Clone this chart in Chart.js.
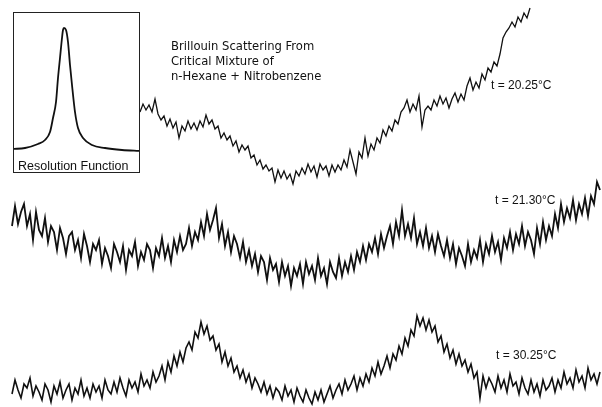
<!DOCTYPE html>
<html>
<head>
<meta charset="utf-8">
<script src="https://cdn.jsdelivr.net/npm/chart.js@4.4.1/dist/chart.umd.min.js"></script>
<style>
  body { margin: 0; background: #fff; }
  #wrap { position: relative; width: 602px; height: 407px; background: #fff; overflow: hidden; }
  #main { position: absolute; left: 0; top: 0; }
  #inset { position: absolute; left: 13px; top: 12px; width: 127px; height: 161px; border: 1.3px solid #222; box-sizing: border-box; }
  #res { position: absolute; left: 0; top: 0; }
  .lbl { position: absolute; color: #111; white-space: nowrap; font-family: "Liberation Sans", Arial, sans-serif; }
  .title { font-family: "DejaVu Sans", sans-serif; font-size: 11.6px; line-height: 15px; }
</style>
</head>
<body>
<div id="wrap">
  <canvas id="main" width="602" height="407"></canvas>
  <div id="inset"><canvas id="res" width="125" height="140"></canvas></div>
  <div class="lbl" style="left:18px; top:159px; font-size:12.5px; line-height:14px;">Resolution Function</div>
  <div class="lbl title" style="left:171px; top:39px;">Brillouin Scattering From<br>Critical Mixture of<br>n-Hexane + Nitrobenzene</div>
  <div class="lbl" style="left:491px; top:79px; font-size:12px; line-height:12px;">t = 20.25°C</div>
  <div class="lbl" style="left:495px; top:194px; font-size:12px; line-height:12px;">t = 21.30°C</div>
  <div class="lbl" style="left:496px; top:349px; font-size:12px; line-height:12px;">t = 30.25°C</div>
</div>
<script>
// channel grid: each trace starts at a channel and is sampled every 3 channels
var channelStep = 3;
var start2025 = 140;
var start2130 = 12;
var start3025 = 12;

// trace values (plot units, larger = lower on the page)
var trace2025 = [112,104,110,105,112,99,114,120,116,126,119,128,122,138,126,131,121,129,123,130,
  121,127,115,124,120,129,126,138,133,140,136,146,141,152,145,150,146,158,155,165,
  160,169,165,171,168,182,170,178,171,179,174,184,171,176,168,174,164,172,166,177,
  164,170,166,176,165,172,165,170,160,167,150,162,174,152,158,138,156,144,150,138,
  143,130,136,126,131,120,124,112,108,100,112,104,110,96,127,110,106,110,100,106,
  96,104,98,108,99,93,102,94,100,86,78,90,82,88,74,80,68,72,62,66,
  54,38,32,28,22,27,17,22,13,18,8];

var trace2130 = [226,206,224,212,204,226,214,240,212,230,236,218,242,226,232,250,228,238,254,236,
  232,250,240,258,234,246,262,244,250,240,264,248,256,268,244,252,262,246,270,250,
  256,242,266,252,260,244,250,268,248,256,238,258,246,262,240,252,236,250,244,228,
  246,232,240,222,236,214,230,220,208,238,224,246,232,252,236,244,258,242,262,250,
  266,254,272,256,262,280,258,270,264,282,262,276,266,286,268,276,264,284,262,274,
  266,280,258,276,268,284,262,272,278,258,276,262,272,256,270,252,262,246,260,244,
  252,238,254,234,248,236,226,244,222,236,210,236,224,238,218,244,232,246,228,248,
  236,252,234,246,256,240,258,244,264,248,256,266,244,262,250,258,240,262,244,254,
  236,252,242,260,238,248,232,250,234,244,226,246,232,240,254,228,244,222,240,226,
  236,214,228,204,222,208,218,200,220,204,214,198,216,196,204,182,190];

var trace3025 = [394,380,390,398,384,388,378,396,386,392,400,384,390,402,386,394,382,398,390,384,
  400,388,394,380,396,388,398,384,392,386,398,380,390,394,382,392,378,388,396,380,
  388,382,392,374,386,380,388,372,382,376,366,380,362,372,356,366,352,362,348,342,
  350,332,338,322,334,326,340,336,350,344,362,352,366,358,372,366,378,370,382,374,
  388,378,384,392,382,394,386,398,388,392,400,386,396,390,402,388,396,402,390,398,
  404,392,400,390,402,394,386,398,390,384,394,380,390,384,376,390,378,386,374,382,
  368,376,362,374,366,356,368,354,360,346,354,338,346,330,336,316,326,318,330,320,
  332,326,342,336,352,344,358,350,364,354,366,360,372,364,378,372,398,376,388,378,
  384,392,376,388,380,392,374,386,382,394,378,388,394,380,392,384,396,380,390,386,
  378,392,380,388,372,384,378,388,370,382,376,388,368,380,374,384,372];

// resolution function (inset), read in inset channel / height units
var resX = [13,25,38,45,50,53,56,58,60,62,63,64,66,68,70,72,75,78,83,92,105,122,140];
var resY = [149,148,144,140,132,118,102,78,58,38,30,28,30,42,65,85,112,128,138,145,148,150,151];

function toPoints(startCh, values) {
  return values.map(function (v, i) {
    return { x: startCh + i * channelStep, y: v };
  });
}

function traceSet(startCh, values, width) {
  return {
    data: toPoints(startCh, values),
    borderColor: '#111',
    borderWidth: width,
    pointRadius: 0,
    tension: 0,
    fill: false
  };
}

var mainChart = new Chart(document.getElementById('main').getContext('2d'), {
  type: 'line',
  data: {
    datasets: [
      traceSet(start2025, trace2025, 1.3),
      traceSet(start2130, trace2130, 1.8),
      traceSet(start3025, trace3025, 1.6)
    ]
  },
  options: {
    responsive: false,
    animation: false,
    devicePixelRatio: 1,
    layout: { padding: 0 },
    plugins: { legend: { display: false }, tooltip: { enabled: false } },
    scales: {
      x: { type: 'linear', min: 0, max: 602, display: false },
      y: { min: 0, max: 407, reverse: true, display: false }
    }
  }
});

var resChart = new Chart(document.getElementById('res').getContext('2d'), {
  type: 'line',
  data: {
    datasets: [{
      data: resX.map(function (x, i) { return { x: x, y: resY[i] }; }),
      borderColor: '#111',
      borderWidth: 1.8,
      pointRadius: 0,
      cubicInterpolationMode: 'monotone',
      fill: false
    }]
  },
  options: {
    responsive: false,
    animation: false,
    devicePixelRatio: 1,
    layout: { padding: 0 },
    plugins: { legend: { display: false }, tooltip: { enabled: false } },
    scales: {
      x: { type: 'linear', min: 14, max: 139, display: false },
      y: { min: 13, max: 153, reverse: true, display: false }
    }
  }
});
</script>
</body>
</html>
